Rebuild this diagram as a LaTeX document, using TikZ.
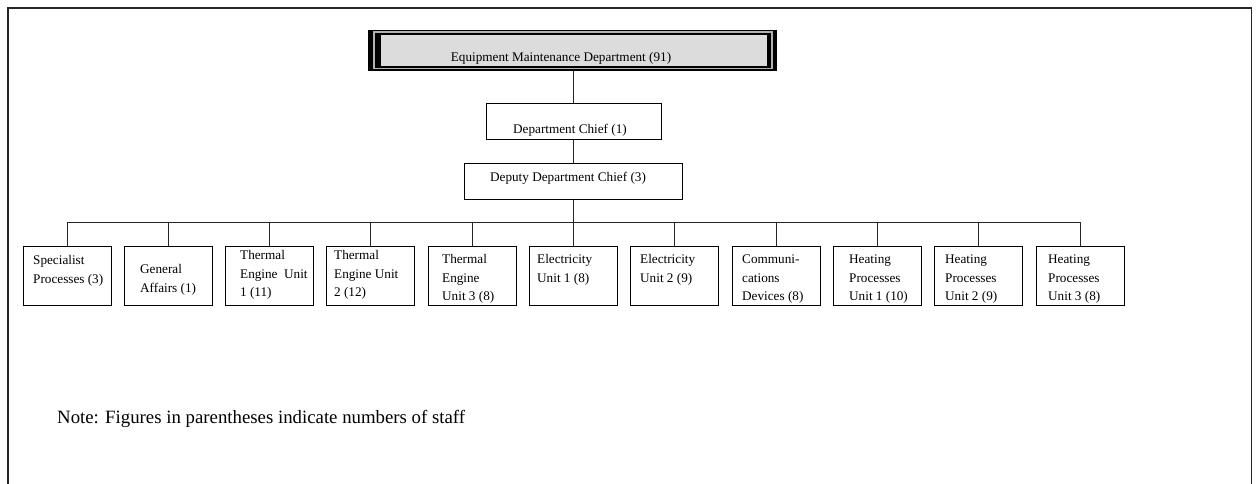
\documentclass[tikz,border=0pt]{standalone}
\usepackage{fontspec}
\setmainfont{Liberation Serif}
\usetikzlibrary{calc}
\definecolor{topfill}{HTML}{DCDCDC}
\begin{document}
\begin{tikzpicture}[x=1pt,y=-1pt,
  every node/.style={font=\fontsize{13.2}{18.5}\selectfont},
  unitbox/.style={draw=black, line width=1pt, minimum width=88pt, minimum height=59pt, inner sep=0pt},
  midbox/.style={draw=black, line width=1pt, inner sep=0pt},
  utext/.style={anchor=north west, inner sep=0pt, align=left},
  conn/.style={draw=black!85, line width=1pt}
]
\useasboundingbox (0,0) rectangle (1256,483);
% outer frame
\begin{scope}
\clip (0,0) rectangle (1256,483);
\draw[line width=1.6pt, black!85] (8,8) rectangle (1251.5,495);
\end{scope}

% top box
\node[fill=black, minimum width=409pt, minimum height=41pt, inner sep=0pt] (top) at (572.5,50.5) {};
\draw[gray!60, line width=1.2pt] (374,32) rectangle (772,68.5);
\fill[topfill] (381,35) rectangle (767,66);
\node[inner sep=0pt] (toptext) at (561,58) {Equipment Maintenance Department (91)};

% chief boxes
\node[midbox, minimum width=175pt, minimum height=36pt] (chief) at (573.5,121) {};
\node[inner sep=0pt] (chieftext) at (570,130) {Department Chief (1)};
\node[midbox, minimum width=218pt, minimum height=36pt] (deputy) at (573,181) {};
\node[inner sep=0pt] (deputytext) at (568,178) {Deputy Department Chief (3)};

% units
\foreach \i in {0,...,10} {
  \node[unitbox] (u\i) at ({67+101.3*\i},275.5) {};
}

\node[utext] at (33,251.5) {\strut Specialist\\Processes (3)};
\node[utext] at (140,260.5) {\strut General\\Affairs (1)};
\node[utext] at (240,246.5) {\strut Thermal\\Engine\ \ Unit\\1 (11)};
\node[utext] at (334,246.5) {\strut Thermal\\Engine Unit\\2 (12)};
\node[utext] at (442,250.5) {\strut Thermal\\Engine\\Unit 3 (8)};
\node[utext] at (537,250.5) {\strut Electricity\\Unit 1 (8)};
\node[utext] at (640,250.5) {\strut Electricity\\Unit 2 (9)};
\node[utext] at (742,250.5) {\strut Communi-\\cations\\Devices (8)};
\node[utext] at (849,250.5) {\strut Heating\\Processes\\Unit 1 (10)};
\node[utext] at (945,250.5) {\strut Heating\\Processes\\Unit 2 (9)};
\node[utext] at (1048,250.5) {\strut Heating\\Processes\\Unit 3 (8)};

% connectors
\coordinate (bus) at (573.5,222);
\draw[conn] (top.south -| chief.north) -- (chief.north);
\draw[conn] (chief.south) -- (chief.south |- deputy.north);
\draw[conn] (deputy.south) -- (deputy.south |- bus);
\draw[conn] (u0.north |- bus) -- (u10.north |- bus);
\foreach \i in {0,...,10} {
  \draw[conn] (u\i.north |- bus) -- (u\i.north);
}

% note
\node[anchor=west, inner sep=0pt, font=\fontsize{18.8}{22}\selectfont] (note) at (57,419) {Note: Figures in parentheses indicate numbers of staff};
\end{tikzpicture}
\end{document}
